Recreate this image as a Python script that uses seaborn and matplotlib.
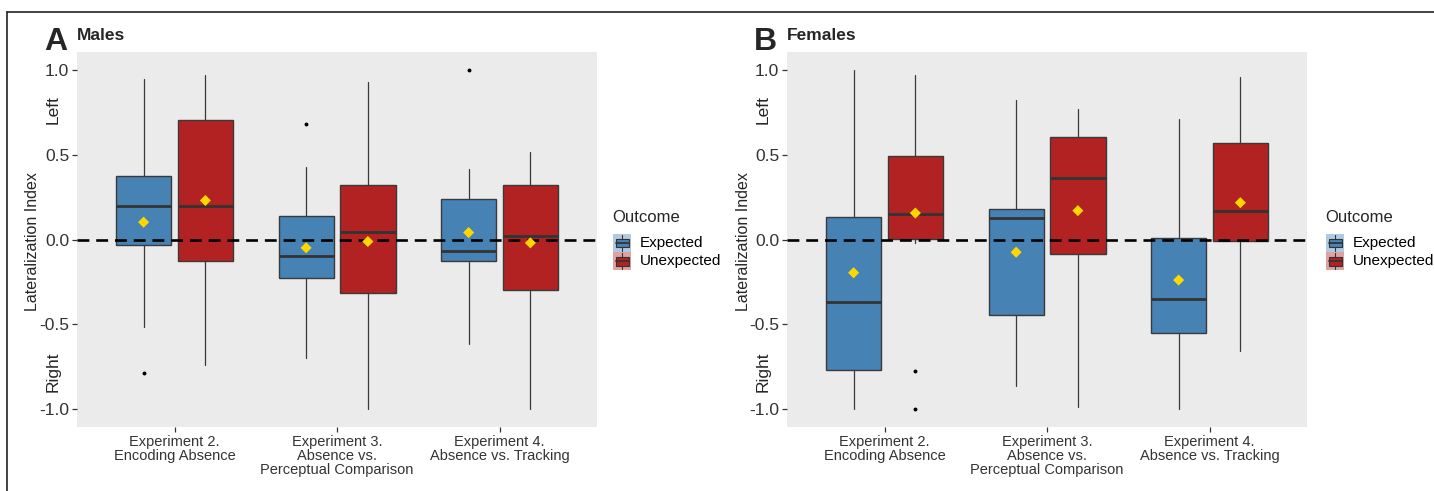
import matplotlib
matplotlib.use("Agg")
import matplotlib.pyplot as plt
import matplotlib.patches as mpatches
import matplotlib.lines as mlines
import numpy as np
import pandas as pd
import seaborn as sns

# categories / groups
experiments = [
    "Experiment 2.\nEncoding Absence",
    "Experiment 3.\nAbsence vs.\nPerceptual Comparison",
    "Experiment 4.\nAbsence vs. Tracking",
]
outcomes = ["Expected", "Unexpected"]
y_ticks = [-1.0, -0.5, 0.0, 0.5, 1.0]
y_tick_labels = ["-1.0", "-0.5", "0.0", "0.5", "1.0"]

# Males (panel A) - box statistics
male_exp_lo = [-0.517, -0.698, -0.616]
male_exp_q1 = [-0.030, -0.226, -0.126]
male_exp_med = [0.199, -0.098, -0.065]
male_exp_q3 = [0.376, 0.136, 0.236]
male_exp_hi = [0.948, 0.427, 0.417]
male_exp_mean = [0.102, -0.049, 0.041]
male_exp_out = [[-0.789], [0.678], [1.0]]

male_unx_lo = [-0.737, -0.999, -1.0]
male_unx_q1 = [-0.126, -0.315, -0.295]
male_unx_med = [0.199, 0.045, 0.018]
male_unx_q3 = [0.702, 0.324, 0.324]
male_unx_hi = [0.968, 0.928, 0.515]
male_unx_mean = [0.230, -0.012, -0.020]
male_unx_out = [[], [], []]

# Females (panel B)
fem_exp_lo = [-1.0, -0.864, -1.0]
fem_exp_q1 = [-0.770, -0.443, -0.553]
fem_exp_med = [-0.371, 0.128, -0.353]
fem_exp_q3 = [0.131, 0.180, 0.010]
fem_exp_hi = [1.0, 0.822, 0.710]
fem_exp_mean = [-0.196, -0.075, -0.239]
fem_exp_out = [[], [], []]

fem_unx_lo = [-0.020, -0.990, -0.655]
fem_unx_q1 = [0.003, -0.085, -0.010]
fem_unx_med = [0.150, 0.360, 0.170]
fem_unx_q3 = [0.491, 0.602, 0.569]
fem_unx_hi = [0.968, 0.770, 0.958]
fem_unx_mean = [0.156, 0.170, 0.217]
fem_unx_out = [[-0.773, -1.0], [], []]

COLORS = {"Expected": "#4682B4", "Unexpected": "#B22222"}
W, H = 1434, 491
DODGE = 0.19
BOX_W = 0.34


def fig_xy(x, y):
    """pixel coords (origin top-left) -> figure fraction"""
    return x / W, 1 - y / H


def box_stats(lo, q1, med, q3, hi, out):
    return [
        {"whislo": a, "q1": b, "med": c, "q3": d, "whishi": e, "fliers": f}
        for a, b, c, d, e, f in zip(lo, q1, med, q3, hi, out)
    ]


def draw_panel(ax, exp_stats, unx_stats, exp_mean, unx_mean):
    base = np.arange(len(experiments))
    for stats, outcome, shift in [
        (exp_stats, "Expected", -DODGE),
        (unx_stats, "Unexpected", DODGE),
    ]:
        ax.bxp(
            stats,
            positions=base + shift,
            widths=BOX_W,
            patch_artist=True,
            showfliers=True,
            boxprops=dict(facecolor=COLORS[outcome], edgecolor="#3a3a3a", linewidth=1.0),
            medianprops=dict(color="#333333", linewidth=2.0),
            whiskerprops=dict(color="#3a3a3a", linewidth=0.9),
            capprops=dict(linewidth=0),
            flierprops=dict(marker="o", markersize=1.8, markerfacecolor="black",
                            markeredgecolor="black"),
            manage_ticks=False,
            zorder=2,
        )

    ax.axhline(0, color="black", linestyle=(0, (4.5, 2.6)), linewidth=1.9, zorder=3)

    means = pd.DataFrame({
        "x": np.concatenate([base - DODGE, base + DODGE]),
        "mean": exp_mean + unx_mean,
    })
    sns.scatterplot(data=means, x="x", y="mean", ax=ax, marker="D", s=32,
                    color="#FFD700", edgecolor="none", zorder=4, legend=False)

    ax.set_xlim(-0.6, 2.6)
    ax.set_ylim(-1.105, 1.105)
    ax.set_facecolor("#EBEBEB")
    ax.grid(False)
    for s in ax.spines.values():
        s.set_visible(False)
    ax.set_xticks(base)
    ax.set_xticklabels(experiments, fontsize=10.5, color="#333333", linespacing=1.0)
    ax.set_yticks(y_ticks)
    ax.set_yticklabels(y_tick_labels, fontsize=12.5, color="#333333")
    ax.tick_params(axis="both", length=3.5, width=0.9, color="#333333", pad=2,
                   bottom=True, left=True)
    ax.set_xlabel("")
    ax.set_ylabel("")


def draw_frame_text(ax_left_px, title_letter, title, legend_x):
    # panel letter + title
    fig.text(*fig_xy(ax_left_px - 33, 42), title_letter, fontsize=23,
             fontweight="bold", va="center", ha="left")
    fig.text(*fig_xy(ax_left_px, 36), title, fontsize=12.5, fontweight="bold",
             va="center", ha="left")
    # y axis label + Left/Right
    fig.text(*fig_xy(ax_left_px - 44, 242), "Lateralization Index", fontsize=11.5,
             rotation=90, va="center", ha="center")
    fig.text(*fig_xy(ax_left_px - 24, 110), "Left", fontsize=12.5, rotation=90,
             va="center", ha="center")
    fig.text(*fig_xy(ax_left_px - 24, 372), "Right", fontsize=12.5, rotation=90,
             va="center", ha="center")

    # legend
    fig.text(*fig_xy(legend_x, 217), "Outcome", fontsize=12, va="center", ha="left")
    for k, outcome in enumerate(outcomes):
        top = 234 + k * 18
        x0, y0 = fig_xy(legend_x + 1, top + 18)
        fig.add_artist(mpatches.Rectangle((x0, y0), 18 / W, 18 / H,
                                          facecolor=COLORS[outcome], alpha=0.42,
                                          edgecolor="none", transform=fig.transFigure))
        bx, by = fig_xy(legend_x + 3.5, top + 13.5)
        fig.add_artist(mpatches.Rectangle((bx, by), 13 / W, 9 / H,
                                          facecolor=COLORS[outcome], edgecolor="#333333",
                                          linewidth=0.8, transform=fig.transFigure))
        cx = legend_x + 10
        for ya, yb in [(top + 1, top + 4.5), (top + 13.5, top + 17)]:
            fig.add_artist(mlines.Line2D([cx / W, cx / W], [1 - ya / H, 1 - yb / H],
                                         color="#333333", linewidth=0.8,
                                         transform=fig.transFigure))
        fig.add_artist(mlines.Line2D([(legend_x + 3.5) / W, (legend_x + 16.5) / W],
                                     [1 - (top + 9) / H] * 2, color="#333333",
                                     linewidth=1.3, transform=fig.transFigure))
        fig.text(*fig_xy(legend_x + 28, top + 9), outcome, fontsize=11, va="center",
                 ha="left", color="black")


sns.set_theme(style="white")
plt.rcParams["font.family"] = ["Liberation Sans", "DejaVu Sans"]

fig = plt.figure(figsize=(W / 100, H / 100), dpi=100)

panels = [
    (77, "A", "Males", 612,
     box_stats(male_exp_lo, male_exp_q1, male_exp_med, male_exp_q3, male_exp_hi, male_exp_out),
     box_stats(male_unx_lo, male_unx_q1, male_unx_med, male_unx_q3, male_unx_hi, male_unx_out),
     male_exp_mean, male_unx_mean),
    (787, "B", "Females", 1325,
     box_stats(fem_exp_lo, fem_exp_q1, fem_exp_med, fem_exp_q3, fem_exp_hi, fem_exp_out),
     box_stats(fem_unx_lo, fem_unx_q1, fem_unx_med, fem_unx_q3, fem_unx_hi, fem_unx_out),
     fem_exp_mean, fem_unx_mean),
]

for left_px, letter, title, legend_x, exp_st, unx_st, exp_m, unx_m in panels:
    ax = fig.add_axes([left_px / W, 1 - 427 / H, 520 / W, 375 / H])
    draw_panel(ax, exp_st, unx_st, exp_m, unx_m)
    draw_frame_text(left_px, letter, title, legend_x)

# border lines of the cropped figure
fig.add_artist(mlines.Line2D([7 / W, 1], [1 - 12 / H] * 2, color="#222222",
                             linewidth=1.2, transform=fig.transFigure))
fig.add_artist(mlines.Line2D([7 / W] * 2, [1 - 12 / H, 0], color="#222222",
                             linewidth=1.2, transform=fig.transFigure))

fig.savefig("out.png", dpi=100, facecolor="white")
